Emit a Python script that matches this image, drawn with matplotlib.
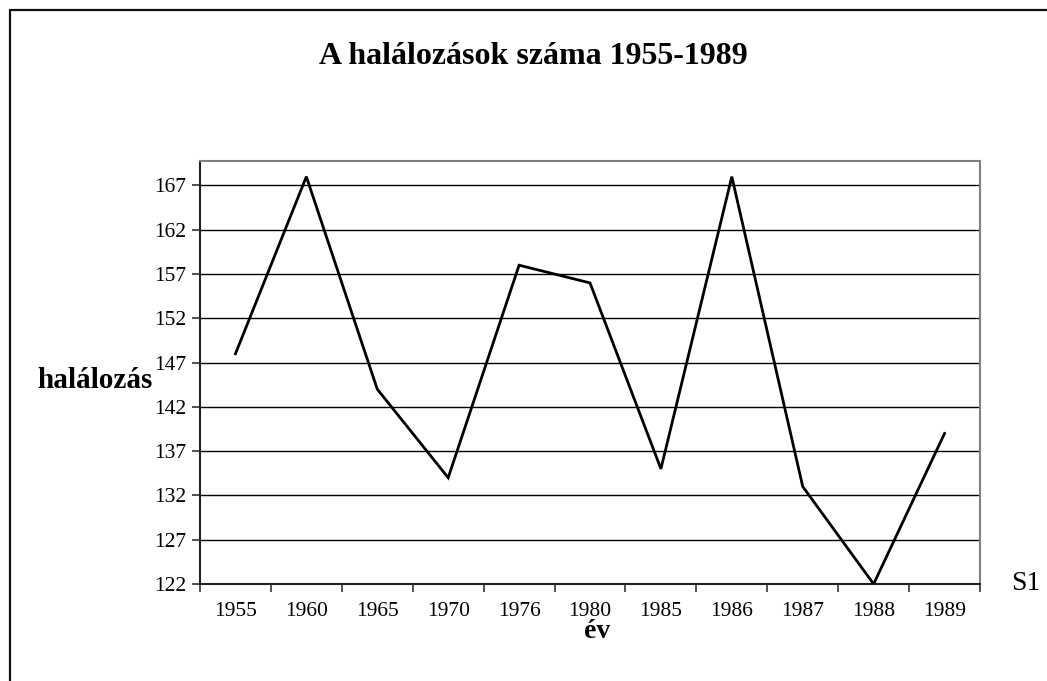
import matplotlib
matplotlib.use("Agg")
import matplotlib.pyplot as plt
from matplotlib.patches import Rectangle
import numpy as np

years = ["1955", "1960", "1965", "1970", "1976", "1980", "1985", "1986", "1987", "1988", "1989"]
deaths = [148, 168, 144, 134, 158, 156, 135, 168, 133, 122, 139]
ytick_vals = [122, 127, 132, 137, 142, 147, 152, 157, 162, 167]

plt.rcParams['font.family'] = ['Liberation Serif', 'DejaVu Serif']

W, H = 1047, 681
fig = plt.figure(figsize=(W / 100, H / 100), dpi=100)
fig.patch.set_facecolor('white')

# outer chart border (extends beyond right/bottom)
fig.add_artist(Rectangle((10 / W, -0.05), 1.1, (H - 10) / H + 0.05, transform=fig.transFigure,
                         fill=False, edgecolor='#111111', linewidth=1.6))

left, right, top, bottom = 200, 980, 160.7, 584
ax = fig.add_axes([left / W, (H - bottom) / H, (right - left) / W, (bottom - top) / H])

x = np.arange(len(years))
ax.plot(x, deaths, color='black', linewidth=2.0, solid_joinstyle='miter', zorder=3)

ax.set_xlim(-0.5, len(years) - 0.5)
ax.set_ylim(122, 169.8)

ax.set_yticks(ytick_vals)
ax.set_yticklabels([str(v) for v in ytick_vals], fontsize=15.5)
ax.yaxis.grid(True, color='black', linewidth=1.0)
ax.set_axisbelow(True)

ax.set_xticks(np.arange(-0.5, len(years), 1.0))
ax.set_xticklabels([])
ax.set_xticks(x, minor=True)
ax.set_xticklabels(years, minor=True, fontsize=15.5)
ax.tick_params(axis='x', which='minor', length=0, pad=13)
ax.tick_params(axis='x', which='major', length=6, width=1.2, direction='out', color='#333333')
ax.tick_params(axis='y', length=6, width=1.2, direction='out', color='#333333', pad=4)

for s in ['top', 'right']:
    ax.spines[s].set_color('#808080')
    ax.spines[s].set_linewidth(1.5)
for s in ['left', 'bottom']:
    ax.spines[s].set_color('#222222')
    ax.spines[s].set_linewidth(1.5)

fig.text(533 / W, 1 - 57 / H, "A halálozások száma 1955-1989", ha='center', va='center',
         fontsize=23, fontweight='bold')
fig.text(95 / W, 1 - 381 / H, "halálozás", ha='center', va='center', fontsize=21, fontweight='bold')
fig.text(597 / W, 1 - 632 / H, "év", ha='center', va='center', fontsize=20, fontweight='bold')
fig.text(1026 / W, 1 - 584 / H, "S1", ha='center', va='center', fontsize=20)

fig.savefig("out.png", dpi=100)
